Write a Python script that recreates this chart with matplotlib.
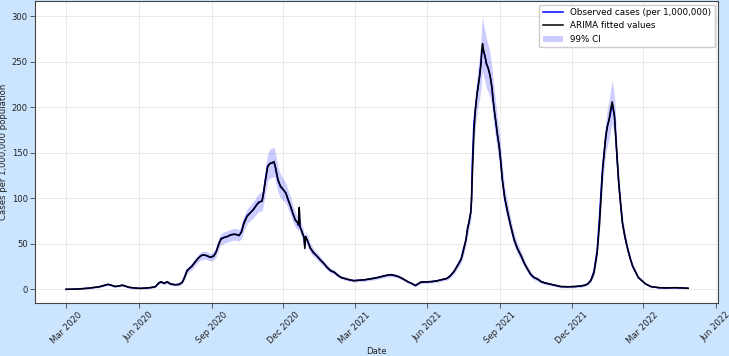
import matplotlib
matplotlib.use("Agg")
import matplotlib.pyplot as plt
import matplotlib.dates as mdates
import pandas as pd
import numpy as np

start_date = "2020-03-01"

days = [0, 7, 14, 21, 28, 35, 42, 49, 53, 57, 62, 67, 71, 75, 79, 86, 94, 101, 108, 113, 117, 120, 124, 128, 132, 138, 143, 147,
        150, 153, 156, 159, 163, 166, 169, 172, 176, 180, 183, 187, 190, 193, 196, 200, 204, 208, 212, 216, 219,
        222, 225, 229, 233, 237, 241, 244, 248, 250, 252, 255, 258, 261, 263,
        265, 268, 271, 275, 278, 281, 284, 287, 290, 293, 294, 295, 296, 298, 301, 302, 303,
        306, 309, 313, 318, 322, 326, 330, 335, 339, 344, 348, 352, 358, 364,
        371, 378, 385, 392, 399, 406, 411, 416, 421, 427, 432, 437, 442, 445, 449,
        456, 463, 470, 477, 482, 486, 491, 495, 500, 503, 506, 508, 510, 512, 513,
        514, 516, 518, 520, 522, 523, 525, 526, 527, 528, 530, 532, 534, 536, 537, 539, 540, 542, 544, 546, 548, 550,
        552, 555, 559, 563, 567, 571, 576, 580, 584, 588, 592, 597, 601, 606, 611, 618, 626, 635, 643, 651,
        656, 660, 664, 668, 672, 675, 677, 679, 681, 683, 685, 687, 689, 691, 692, 694, 696, 697, 699, 700,
        702, 704, 707, 709, 711, 714, 717, 721, 724, 728, 733, 740, 750, 760, 770, 780, 787]

observed = [0, 0.1, 0.3, 0.7, 1.2, 2.0, 2.8, 4.5, 5.5, 4.5, 3.0, 3.8, 4.6, 3.5, 2.2, 1.5, 1.0, 1.5, 2.0, 3.0, 7.0, 8.4, 6.5, 8.3, 5.8, 5.0, 5.5, 8.0,
            14, 21, 23, 25.5, 30, 33, 36, 37.7, 37.5, 36, 35, 37, 42, 50, 56, 57, 58, 60, 60.5, 60, 59,
            64, 74, 81, 84, 88, 93, 96, 97, 108, 120, 136, 138, 139, 140,
            133, 120, 113, 109, 106, 98, 91, 83, 76, 73, 70, 86, 68, 64, 57, 48, 58,
            52, 45, 40, 36, 32, 28.5, 24, 20, 19, 15, 13, 12, 10.5, 9.5,
            10, 10.5, 11.5, 12.5, 14, 15.5, 16, 15, 13.8, 11, 8.4, 6.5, 4, 6, 8,
            8.2, 8.5, 9.5, 11, 12, 15, 20, 26, 34, 45, 54, 68, 74, 85, 100,
            138, 182, 200, 215, 228, 233, 250, 260, 265, 262, 257, 247, 244, 236, 233, 220, 211, 195, 182, 168, 158, 140,
            120, 100, 83, 68, 54, 45, 36, 28, 22, 16, 13, 11, 8.4, 7, 6, 4.5, 3, 2.8, 3, 3.6,
            4.5, 6, 10, 20, 43, 80, 109, 135, 152, 170, 180, 186, 194, 203, 200, 190, 160, 146, 120, 109,
            90, 72.5, 58, 50, 43, 33, 25, 18, 13, 10, 6, 3, 1.8, 1.5, 1.8, 1.5, 1.1]

fitted = [0, 0.1, 0.3, 0.7, 1.2, 2.0, 2.8, 4.4, 5.4, 4.6, 3.1, 3.7, 4.5, 3.6, 2.3, 1.5, 1.0, 1.4, 2.0, 2.9, 6.6, 8.2, 6.7, 8.1, 6.0, 5.0, 5.4, 7.6,
          13, 20, 23, 25, 29.5, 33, 35.5, 37.5, 37.6, 36.2, 35.2, 36.6, 41, 49, 55, 57, 58, 59.5, 60.5, 60.2, 59.2,
          63, 72, 80, 84, 87.5, 92.5, 95.5, 97, 106, 118, 134, 138.5, 139, 140.5,
          134, 121, 114, 109.5, 106, 98.5, 91.5, 83.5, 76.5, 73, 71, 90, 69, 64.5, 57.5, 45, 58,
          52.5, 45.5, 40.5, 36, 32, 28.5, 24.5, 20.5, 19, 15.5, 13, 12, 10.6, 9.5,
          10, 10.5, 11.4, 12.5, 13.9, 15.4, 16, 15.2, 13.9, 11.2, 8.6, 6.6, 4.2, 5.8, 7.8,
          8.2, 8.5, 9.4, 10.9, 12, 14.6, 19.5, 25.5, 33, 43, 55, 66, 75, 84, 97,
          125, 172, 198, 214, 226, 232, 248, 263, 270, 264, 256, 248, 243, 237, 232, 221, 211, 196, 183, 169, 157, 141,
          121, 101, 84, 68.5, 54.5, 45, 36.5, 28.5, 22, 16.5, 13, 11, 8.5, 7, 6, 4.5, 3, 2.8, 3, 3.6,
          4.4, 5.8, 9.5, 18, 40, 72, 102, 132, 150, 168, 179, 186, 197, 206, 201, 189, 162, 147, 121, 110,
          91, 73, 58.5, 50.5, 43, 33.5, 25.5, 18.5, 13.2, 10, 6.1, 3, 1.8, 1.5, 1.8, 1.5, 1.1]

ci_half = [0.4, 0.4, 0.5, 0.6, 0.7, 0.8, 1.0, 1.2, 1.3, 1.2, 1.0, 1.1, 1.2, 1.0, 0.9, 0.8, 0.7, 0.8, 0.9, 1.0, 1.5, 1.8, 1.6, 1.8, 1.4, 1.3, 1.4, 1.8,
           2.5, 3.0, 3.2, 3.5, 3.8, 4.0, 4.2, 4.5, 4.5, 4.3, 4.2, 4.5, 5.0, 5.5, 6.0, 6.2, 6.3, 6.5, 6.5, 6.5, 6.3,
           7, 7.5, 8, 8.5, 9, 9.5, 10, 10.5, 12, 13, 15, 16, 16, 16,
           15, 14, 13, 12, 11, 10.5, 10, 9, 8, 7.5, 7.5, 8, 7.5, 7, 6.5, 6, 6,
           5.5, 5, 4.5, 4, 3.5, 3.2, 3, 2.5, 2.3, 2, 1.8, 1.7, 1.6, 1.5,
           1.5, 1.6, 1.7, 1.8, 1.9, 2, 2, 2, 1.9, 1.7, 1.5, 1.3, 1.2, 1.3, 1.5,
           1.5, 1.5, 1.6, 1.7, 1.8, 2, 2.5, 3, 4, 5, 6, 7, 8, 9, 10,
           13, 16, 18, 20, 22, 24, 27, 28, 30, 29, 28, 27, 26, 25, 24, 23, 22, 21, 20, 19, 18, 16,
           14, 12, 10, 8, 7, 6, 5, 4, 3.5, 3, 2.5, 2.2, 2, 1.8, 1.6, 1.4, 1.2, 1.2, 1.2, 1.3,
           1.4, 1.5, 2, 3, 5, 8, 11, 14, 16, 18, 20, 21, 22, 24, 23, 22, 18, 16, 13, 12,
           10, 8, 6.5, 6, 5, 4, 3, 2.5, 2, 1.5, 1.2, 0.8, 0.6, 0.5, 0.5, 0.5, 0.5]

dates = pd.Timestamp(start_date) + pd.to_timedelta(days, unit="D")
fit_arr = np.array(fitted)
half_arr = np.array(ci_half)
ci_lower = fit_arr - half_arr
ci_upper = fit_arr + half_arr

fs = 6.1
bg = "#cce5ff"
fig = plt.figure(figsize=(7.29, 3.56), dpi=100, facecolor=bg)
ax = fig.add_axes([0.0484, 0.149, 0.9366, 0.848])
ax.set_facecolor("white")

ax.fill_between(dates, ci_lower, ci_upper, color="blue", alpha=0.2, linewidth=0, label="99% CI")
ax.plot(dates, observed, color="blue", lw=1.1, label="Observed cases (per 1,000,000)")
ax.plot(dates, fitted, color="black", lw=1.1, label="ARIMA fitted values")

ax.grid(True, color="#e6e6e6", lw=0.6)
ax.set_axisbelow(True)
ax.set_yticks([0, 50, 100, 150, 200, 250, 300])
ax.xaxis.set_major_locator(mdates.MonthLocator(bymonth=[3, 6, 9, 12]))
ax.xaxis.set_major_formatter(mdates.DateFormatter("%b %Y"))
ax.set_xlim(pd.Timestamp("2020-01-22"), pd.Timestamp("2022-06-04"))
ax.set_ylim(-15, 316.8)
for lab in ax.get_xticklabels():
    lab.set_rotation(45)
    lab.set_ha("center")
ax.tick_params(axis="both", labelsize=fs, length=3.3, width=0.6, color="#444444", labelcolor="#222222", pad=2)
for s in ax.spines.values():
    s.set_color("#444444")
    s.set_linewidth(0.8)
ax.set_xlabel("Date", fontsize=fs, color="#222222", labelpad=1)
ax.set_ylabel("Cases per 1,000,000 population", fontsize=fs, color="#222222", labelpad=3)

h, l = ax.get_legend_handles_labels()
order = [1, 2, 0]
ax.legend([h[i] for i in order], [l[i] for i in order], loc="upper right", fontsize=fs + 0.2,
          frameon=True, framealpha=1.0, edgecolor="#cccccc", fancybox=True, handlelength=2.3,
          borderaxespad=0.4)

fig.savefig("out.png", dpi=100, facecolor=bg)
